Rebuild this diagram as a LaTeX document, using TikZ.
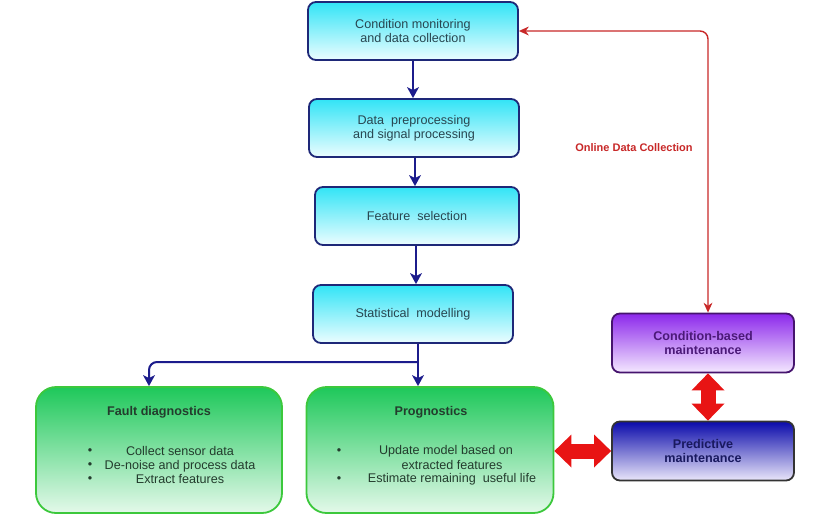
\documentclass[tikz,border=0pt]{standalone}
\usepackage{fontspec}
\setmainfont{Liberation Sans}
\usepackage{tikz}
\usetikzlibrary{arrows.meta,positioning,shapes}

\definecolor{navyline}{RGB}{28,28,140}
\definecolor{boxline}{RGB}{30,40,120}
\definecolor{cyantop}{RGB}{50,228,246}
\definecolor{cyanbot}{RGB}{236,253,255}
\definecolor{greentop}{RGB}{30,200,90}
\definecolor{greenbot}{RGB}{228,249,234}
\definecolor{greenline}{RGB}{60,200,60}
\definecolor{purptop}{RGB}{140,40,235}
\definecolor{purpbot}{RGB}{244,232,255}
\definecolor{purpline}{RGB}{70,20,110}
\definecolor{bluetop}{RGB}{10,10,170}
\definecolor{bluebot}{RGB}{234,230,250}
\definecolor{onred}{RGB}{200,40,40}
\definecolor{blockred}{RGB}{232,20,20}
\definecolor{txtgray}{RGB}{40,70,80}
\definecolor{gtxt}{RGB}{35,60,45}
\definecolor{purptxt}{RGB}{75,25,120}
\definecolor{bluetxt}{RGB}{25,25,95}

\begin{document}
\begin{tikzpicture}[x=1pt,y=-1pt,
  cbox/.style={draw=boxline, line width=1.8pt, rounded corners=8pt, top color=cyantop, bottom color=cyanbot,
    minimum height=58pt, text=txtgray, align=center, font=\fontsize{12.6}{14}\selectfont},
  gbox/.style={draw=greenline, line width=1.8pt, rounded corners=20pt, top color=greentop, bottom color=greenbot,
    minimum height=126pt},
  mbox/.style={line width=1.8pt, rounded corners=8pt, minimum width=182pt, minimum height=59pt,
    align=center, font=\bfseries\fontsize{12.6}{14}\selectfont},
  gtext/.style={text=gtxt, align=center, font=\fontsize{12.6}{14}\selectfont},
  flow/.style={navyline, line width=2pt, -{Stealth[length=11pt,width=12pt,inset=3pt,line width=0pt]}},
  online/.style={onred, line width=1.4pt, {Stealth[length=10pt,width=9pt,line width=0pt]}-{Stealth[length=10pt,width=9pt,line width=0pt]}},
  blockarr/.style={blockred, line width=15pt, {Triangle[length=17pt,width=33pt,line width=0pt]}-{Triangle[length=17pt,width=33pt,line width=0pt]}}]

  \useasboundingbox[fill=white] (0,0) rectangle (839,517);

  %process boxes
  \foreach \name/\x/\y/\w/\txt in {mon/413/31/210/{Condition monitoring\\and data collection},
      pre/414/128/210/{Data\ \ preprocessing\\and signal processing},
      fea/417/216/204/{Feature\ \ selection},
      sta/413/314/200/{Statistical\ \ modelling}}{
    \node[cbox, minimum width=\w pt] (\name) at (\x,\y) {\txt};
  }

  %result boxes
  \node[gbox, minimum width=246pt] (fd) at (159,450) {};
  \node[gbox, minimum width=247pt] (pg) at (430,450) {};

  \node[gtext, font=\bfseries\fontsize{12.6}{14}\selectfont] (fdt) at (159,412) {Fault diagnostics};
  \node[gtext, font=\bfseries\fontsize{12.6}{14}\selectfont] (pgt) at (431,412) {Prognostics};

  \node[gtext] (fdl) at (180,465) {Collect sensor data\\De-noise and process data\\Extract features};
  \foreach \i/\y in {1/452,2/466,3/480}{
    \node[gtext] (fdb\i) at (90,\y) {\textbullet};
  }

  \foreach \i/\x/\y/\txt in {1/446/451/{Update model based on},2/452/465/{extracted features},3/452/479/{Estimate remaining\ \ useful life}}{
    \node[gtext] (pgl\i) at (\x,\y) {\txt};
  }
  \foreach \i/\y in {1/452,2/480}{
    \node[gtext] (pgb\i) at (339,\y) {\textbullet};
  }

  %maintenance boxes
  \node[mbox, draw=purpline, top color=purptop, bottom color=purpbot, text=purptxt] (cbm) at (703,343) {Condition-based\\maintenance};
  \node[mbox, draw=black!80, top color=bluetop, bottom color=bluebot, text=bluetxt] (pdm) at (703,451) {Predictive\\maintenance};

  %arrows
  \draw[flow] (mon.south) -- (mon.south |- pre.north);
  \draw[flow] ([xshift=1pt]pre.south) -- ([xshift=1pt]pre.south |- fea.north);
  \draw[flow] ([xshift=-1pt]fea.south) -- ([xshift=-1pt]fea.south |- sta.north);
  \draw[flow] ([xshift=5pt]sta.south) -- ([xshift=5pt]sta.south |- pg.north);
  \coordinate (spl) at (418,362);
  \draw[flow, rounded corners=8pt] (spl) -| ([xshift=-10pt]fd.north);

  \draw[online, rounded corners=8pt] ([xshift=5pt]cbm.north) |- (mon.east);
  \node[text=onred, font=\bfseries\fontsize{11}{13}\selectfont] (odc) at (634,148) {Online Data Collection};

  \draw[blockarr] ([xshift=5pt]cbm.south) -- ([xshift=5pt]pdm.north);
  \draw[blockarr] (pg.east |- pdm.west) -- (pdm.west);

\end{tikzpicture}
\end{document}
